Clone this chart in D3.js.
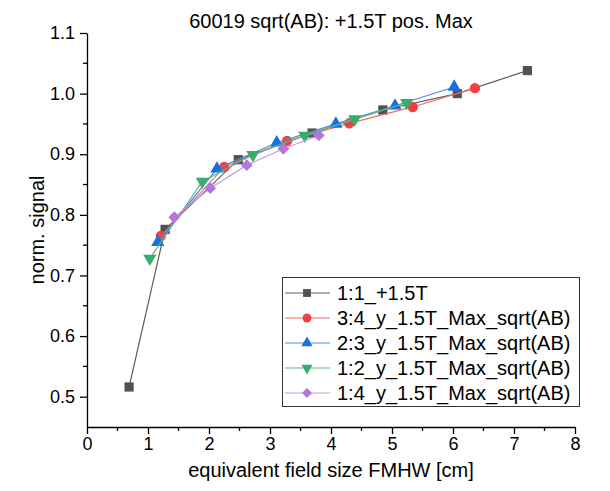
<!DOCTYPE html>
<html><head><meta charset="utf-8">
<script src="https://cdn.jsdelivr.net/npm/d3@7"></script>
<style>body{margin:0;background:#fff}svg{display:block}text{font-family:"Liberation Sans",Arial,sans-serif;fill:#000}</style>
</head><body>
<svg id="c" width="610" height="491"></svg>
<script>
const title = "60019 sqrt(AB): +1.5T pos. Max";
const xTitle = "equivalent field size FMHW [cm]";
const yTitle = "norm. signal";
const xTicks = [0,1,2,3,4,5,6,7,8];
const yTicks = [0.5,0.6,0.7,0.8,0.9,1.0,1.1];
const seriesNames = ["1:1_+1.5T","3:4_y_1.5T_Max_sqrt(AB)","2:3_y_1.5T_Max_sqrt(AB)","1:2_y_1.5T_Max_sqrt(AB)","1:4_y_1.5T_Max_sqrt(AB)"];
const s11_x = [0.69,1.28,2.48,3.69,4.85,6.07,7.22];
const s11_y = [0.516,0.776,0.891,0.935,0.973,1.000,1.038];
const s34_x = [1.21,2.25,3.28,4.30,5.34,6.36];
const s34_y = [0.765,0.879,0.922,0.951,0.978,1.009];
const s23_x = [1.16,2.13,3.11,4.08,5.05,6.02];
const s23_y = [0.755,0.876,0.919,0.950,0.980,1.011];
const s12_x = [1.03,1.89,2.72,3.57,4.39,5.24];
const s12_y = [0.728,0.855,0.899,0.931,0.958,0.985];
const s14_x = [1.43,2.02,2.62,3.22,3.80];
const s14_y = [0.796,0.844,0.882,0.909,0.931];

const colors = ["#515151","#F14040","#1A6FDF","#37AD6B","#B177DE"];
const lineColors = ["#5e5e5e","#f26a6a","#4a8ce6","#5cbb86","#c39ae6"];
const xs=[s11_x,s34_x,s23_x,s12_x,s14_x], ys=[s11_y,s34_y,s23_y,s12_y,s14_y];
const series = seriesNames.map((n,i)=>({name:n, pts:xs[i].map((x,j)=>[x,ys[i][j]])}));

const svg = d3.select("#c");
const L=87,R=575,T=33,B=427;
const x = d3.scaleLinear().domain([0,8]).range([L,R]);
const y = d3.scaleLinear().domain([0.45,1.1]).range([B,T]);

const xAx = svg.append("g").attr("transform",`translate(0,${B})`)
  .call(d3.axisBottom(x).tickValues(xTicks).tickFormat(d3.format("d")).tickSize(7).tickSizeOuter(0).tickPadding(3));
const yAx = svg.append("g").attr("transform",`translate(${L},0)`)
  .call(d3.axisLeft(y).tickValues(yTicks).tickFormat(d3.format(".1f")).tickSize(7).tickSizeOuter(0).tickPadding(5));
[xAx,yAx].forEach(a=>{a.selectAll("path,line").attr("stroke","#000").attr("stroke-width",1.3);a.selectAll("text").style("font-size","18px").attr("fill","#000");});
svg.append("g").selectAll("line").data(d3.range(0.5,8,1)).join("line")
  .attr("x1",d=>x(d)).attr("x2",d=>x(d)).attr("y1",B).attr("y2",B+4).attr("stroke","#000").attr("stroke-width",1.3);
svg.append("g").selectAll("line").data([0.55,0.65,0.75,0.85,0.95,1.05]).join("line")
  .attr("y1",d=>y(d)).attr("y2",d=>y(d)).attr("x1",L).attr("x2",L-4).attr("stroke","#000").attr("stroke-width",1.3);

svg.append("text").attr("x",331).attr("y",28).attr("text-anchor","middle").style("font-size","20px").text(title);
svg.append("text").attr("x",331).attr("y",477).attr("text-anchor","middle").style("font-size","20px").text(xTitle);
svg.append("text").attr("transform","translate(44,230) rotate(-90)").attr("text-anchor","middle").style("font-size","20px").text(yTitle);

const symSq = d3.symbol().type(d3.symbolSquare).size(85)();
const symCi = d3.symbol().type(d3.symbolCircle).size(85)();
const symTr = d3.symbol().type(d3.symbolTriangle).size(75)();
const symDi = d3.symbol().type(d3.symbolSquare).size(70)();
const line = d3.line().x(d=>x(d[0])).y(d=>y(d[1]));
series.forEach((s,i)=>{
  const g=svg.append("g");
  g.append("path").attr("d",line(s.pts)).attr("fill","none").attr("stroke",lineColors[i]).attr("stroke-width",1.2);
  const rot = i===3?180:(i===4?45:0);
  g.selectAll("path.m").data(s.pts).join("path").attr("class","m")
    .attr("d",[symSq,symCi,symTr,symTr,symDi][i])
    .attr("transform",d=>`translate(${x(d[0])},${y(d[1])}) rotate(${rot})`)
    .attr("fill",colors[i]);
});

const lg = svg.append("g");
lg.append("rect").attr("x",282.5).attr("y",277.5).attr("width",297).attr("height",129).attr("fill","#fff").attr("stroke","#333").attr("stroke-width",1);
series.forEach((s,i)=>{
  const yy = 293 + i*25;
  lg.append("line").attr("x1",285).attr("x2",330).attr("y1",yy).attr("y2",yy).attr("stroke",lineColors[i]).attr("stroke-width",1.2);
  const rot = i===3?180:(i===4?45:0);
  lg.append("path").attr("d",[symSq,symCi,symTr,symTr,symDi][i]).attr("transform",`translate(307,${yy}) rotate(${rot}) scale(0.85)`).attr("fill",colors[i]);
  lg.append("text").attr("x",337).attr("y",yy+7).style("font-size","20px").text(s.name);
});
</script>
</body></html>
